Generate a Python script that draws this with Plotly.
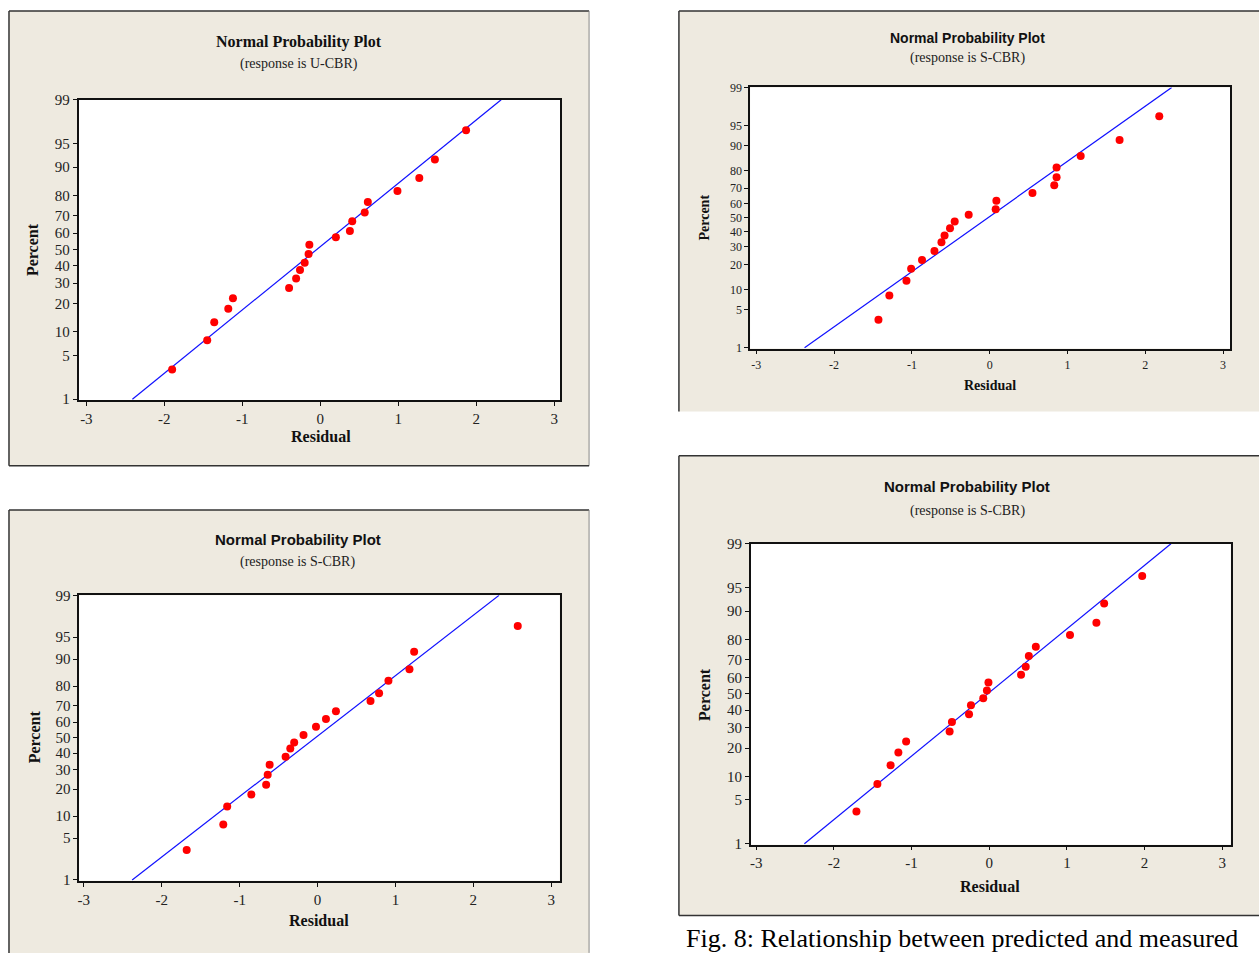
import plotly.graph_objects as go
from statistics import NormalDist

W, H = 1259, 955

# ---------------- data ----------------
pct_ticks = [1, 5, 10, 20, 30, 40, 50, 60, 70, 80, 90, 95, 99]
x_ticks = [-3, -2, -1, 0, 1, 2, 3]
x_tick_labels = ["-3", "-2", "-1", "0", "1", "2", "3"]

# Panel 1 (response is U-CBR)
resid_1 = [-1.90, -1.45, -1.36, -1.18, -1.12, -0.40, -0.31, -0.26, -0.20, -0.15,
           -0.14, 0.20, 0.38, 0.41, 0.57, 0.61, 0.99, 1.27, 1.47, 1.87]
pct_1 = [3.1, 7.9, 12.9, 17.9, 22.4, 27.5, 32.6, 37.5, 41.8, 47.2,
         53.0, 57.6, 61.3, 67.0, 71.7, 77.0, 81.8, 86.7, 91.9, 96.8]
line_resid_1 = [-2.41, 2.32]

# Panel 2 (response is S-CBR, top right)
resid_2 = [-1.43, -1.29, -1.07, -1.01, -0.87, -0.71, -0.62, -0.58, -0.51, -0.45,
           -0.27, 0.077, 0.086, 0.55, 0.83, 0.86, 0.86, 1.17, 1.67, 2.18]
pct_2 = [3.4, 8.2, 13.0, 18.0, 22.5, 27.5, 33.0, 37.5, 42.5, 47.2,
         52.0, 56.0, 61.8, 67.0, 71.8, 76.5, 81.5, 86.5, 91.7, 96.5]
line_resid_2 = [-2.38, 2.34]

# Panel 3 (response is S-CBR, bottom left)
resid_3 = [-1.68, -1.21, -1.16, -0.85, -0.66, -0.64, -0.615, -0.41, -0.35, -0.30,
           -0.18, -0.02, 0.108, 0.236, 0.68, 0.79, 0.91, 1.18, 1.24, 2.57]
pct_3 = [3.3, 7.8, 13.0, 17.6, 22.0, 27.2, 32.9, 37.7, 42.9, 46.8,
         51.7, 57.0, 62.0, 66.7, 72.5, 76.6, 82.4, 86.8, 92.0, 96.6]
line_resid_3 = [-2.38, 2.33]

# Panel 4 (response is S-CBR, bottom right)
resid_4 = [-1.71, -1.44, -1.27, -1.17, -1.07, -0.51, -0.48, -0.26, -0.235, -0.077,
           -0.03, -0.01, 0.41, 0.47, 0.51, 0.60, 1.04, 1.38, 1.48, 1.97]
pct_4 = [3.4, 8.1, 13.4, 18.1, 22.9, 27.9, 33.0, 37.6, 42.9, 47.2,
         52.0, 57.0, 61.6, 66.2, 72.1, 76.7, 81.9, 86.5, 91.9, 96.6]
line_resid_4 = [-2.38, 2.34]

line_pct = [1, 99]

titles = ["Normal Probability Plot"] * 4
subtitles = ["(response is U-CBR)", "(response is S-CBR)",
             "(response is S-CBR)", "(response is S-CBR)"]
caption = "Fig. 8: Relationship between predicted and measured"

# ---------------- helpers ----------------
nd = NormalDist()
def z(p):
    return nd.inv_cdf(p / 100.0)

def px(x):
    return x / W

def py(y):
    return 1 - y / H

SERIF = "Liberation Serif, Times New Roman, serif"
SANS = "Liberation Sans, Arial, sans-serif"
BEIGE = "#EEEAE0"
EDGE = "#333333"

panels = [
    dict(resid=resid_1, pct=pct_1, line=line_resid_1,
         dom=(76.7, 559.3, 93.3, 398.3), xr=(-3.10, 3.08),
         box=(7, 588, 3, 465), bottom_edge=True,
         title_y=35, sub_y=57, title_x=297, title_font=(SERIF, 16),
         perc=(30, 245), resid_lab=(320, 435), tickfs=15, labfs=16),
    dict(resid=resid_2, pct=pct_2, line=line_resid_2,
         dom=(749.3, 1230, 80.7, 346), xr=(-3.08, 3.09),
         box=(678, 1262, 3, 410), bottom_edge=False,
         title_y=30, sub_y=51, title_x=967, title_font=(SANS, 14),
         perc=(704, 213), resid_lab=(990, 384), tickfs=12, labfs=14),
    dict(resid=resid_3, pct=pct_3, line=line_resid_3,
         dom=(77.3, 558.7, 596.7, 886.7), xr=(-3.06, 3.11),
         box=(7, 588, 510, 960), bottom_edge=False,
         title_y=540, sub_y=563, title_x=296, title_font=(SANS, 15),
         perc=(32, 740), resid_lab=(318, 927), tickfs=15, labfs=16),
    dict(resid=resid_4, pct=pct_4, line=line_resid_4,
         dom=(750, 1230.7, 544.3, 850), xr=(-3.07, 3.11),
         box=(678, 1262, 455, 922), bottom_edge=True,
         title_y=486, sub_y=511, title_x=967, title_font=(SANS, 15),
         perc=(703, 697), resid_lab=(990, 893), tickfs=15, labfs=16),
]

fig = go.Figure()
shapes = []
annotations = []
ytickvals = [z(p) for p in pct_ticks]
yticktext = [str(p) for p in pct_ticks]

for i, p in enumerate(panels, start=1):
    xa = "x" if i == 1 else f"x{i}"
    ya = "y" if i == 1 else f"y{i}"
    # fitted line
    fig.add_trace(go.Scatter(
        x=p["line"], y=[z(v) for v in line_pct], mode="lines",
        line=dict(color="#1010FF", width=1.2), xaxis=xa, yaxis=ya,
        showlegend=False, hoverinfo="skip"))
    # points
    fig.add_trace(go.Scatter(
        x=p["resid"], y=[z(v) for v in p["pct"]], mode="markers",
        marker=dict(color="#FF0000", size=8, symbol="circle"),
        xaxis=xa, yaxis=ya, showlegend=False))

    x0, x1, y0, y1 = p["dom"]
    axis_common = dict(showline=True, linecolor="#111111", linewidth=1.5,
                       mirror=True, ticks="outside", ticklen=4, tickwidth=1.2,
                       tickcolor="#111111", showgrid=False, zeroline=False,
                       tickfont=dict(family=SERIF, size=p["tickfs"], color="#222222"))
    xkey = "xaxis" if i == 1 else f"xaxis{i}"
    ykey = "yaxis" if i == 1 else f"yaxis{i}"
    fig.update_layout(**{
        xkey: dict(domain=[px(x0), px(x1)], range=list(p["xr"]),
                   tickvals=x_ticks, ticktext=x_tick_labels, anchor=ya,
                   **axis_common),
        ykey: dict(domain=[py(y1), py(y0)], range=[-2.34, 2.3263],
                   tickvals=ytickvals, ticktext=yticktext, anchor=xa,
                   **axis_common),
    })

    bx0, bx1, by0, by1 = p["box"]
    shapes.append(dict(type="rect", xref="paper", yref="paper",
                       x0=px(bx0), x1=px(bx1), y0=py(by1), y1=py(by0),
                       fillcolor=BEIGE, line=dict(width=0), layer="below"))
    edge = dict(color=EDGE, width=1.5)
    shapes.append(dict(type="line", xref="paper", yref="paper", layer="below",
                       x0=px(bx0), x1=px(bx1), y0=py(by0), y1=py(by0), line=edge))
    shapes.append(dict(type="line", xref="paper", yref="paper", layer="below",
                       x0=px(bx0), x1=px(bx0), y0=py(by0), y1=py(by1), line=edge))
    shapes.append(dict(type="line", xref="paper", yref="paper", layer="below",
                       x0=px(bx1), x1=px(bx1), y0=py(by0), y1=py(by1),
                       line=dict(color="#888888", width=1)))
    if p["bottom_edge"]:
        shapes.append(dict(type="line", xref="paper", yref="paper", layer="below",
                           x0=px(bx0), x1=px(bx1), y0=py(by1), y1=py(by1), line=edge))
    # white plotting area
    shapes.append(dict(type="rect", xref="paper", yref="paper",
                       x0=px(x0), x1=px(x1), y0=py(y1), y1=py(y0),
                       fillcolor="white", line=dict(width=0), layer="below"))

    tf, ts = p["title_font"]
    annotations.append(dict(text="<b>" + titles[i - 1] + "</b>", x=px(p["title_x"]),
                            y=py(p["title_y"]), xref="paper", yref="paper",
                            showarrow=False, xanchor="center", yanchor="middle",
                            font=dict(family=tf, size=ts, color="#111111")))
    annotations.append(dict(text=subtitles[i - 1], x=px(p["title_x"]),
                            y=py(p["sub_y"]), xref="paper", yref="paper",
                            showarrow=False, xanchor="center", yanchor="middle",
                            font=dict(family=SERIF, size=14, color="#222222")))
    annotations.append(dict(text="<b>Percent</b>", x=px(p["perc"][0]),
                            y=py(p["perc"][1]), xref="paper", yref="paper",
                            showarrow=False, textangle=-90, xanchor="center",
                            yanchor="middle",
                            font=dict(family=SERIF, size=p["labfs"], color="#111111")))
    annotations.append(dict(text="<b>Residual</b>", x=px(p["resid_lab"][0]),
                            y=py(p["resid_lab"][1]), xref="paper", yref="paper",
                            showarrow=False, xanchor="center", yanchor="middle",
                            font=dict(family=SERIF, size=p["labfs"], color="#111111")))

annotations.append(dict(text=caption, x=px(683), y=py(929), xref="paper", yref="paper",
                        showarrow=False, xanchor="left", yanchor="top",
                        font=dict(family=SERIF, size=26, color="#000000")))

fig.update_layout(width=W, height=H, margin=dict(l=0, r=0, t=0, b=0),
                  paper_bgcolor="white", plot_bgcolor="white",
                  shapes=shapes, annotations=annotations)

fig.write_html("out.html")
